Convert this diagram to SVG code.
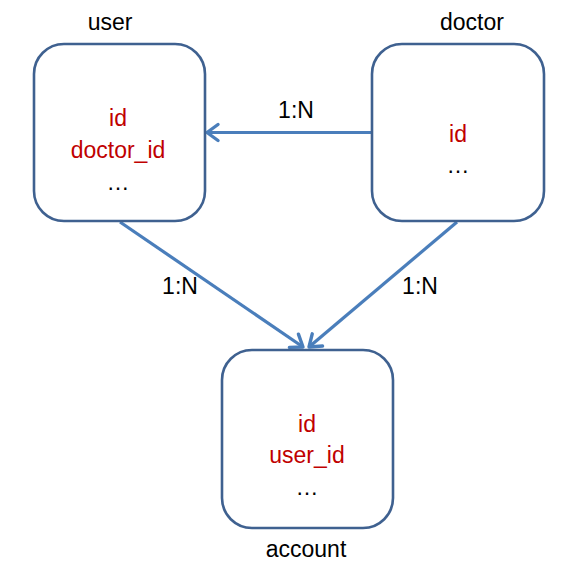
<svg xmlns="http://www.w3.org/2000/svg" width="579" height="581" viewBox="0 0 579 581">
<style>
.box{fill:#fff;stroke:#3F6190;stroke-width:2.6}
.conn{stroke:#4A7EBB;stroke-width:3.2;fill:none}
.t{font-family:"Liberation Sans",Arial,sans-serif;font-size:23px;text-anchor:middle;fill:#000}
.r{fill:#C00000}
</style>
<defs>
<marker id="ah" markerUnits="userSpaceOnUse" markerWidth="24" markerHeight="24" refX="14" refY="10" orient="auto" viewBox="0 0 24 20">
<path d="M3,2 L14,10 L3,18" fill="none" stroke="#4A7EBB" stroke-width="3.4" stroke-linecap="round" stroke-linejoin="round"/>
</marker>
</defs>
<rect width="579" height="581" fill="#fff"/>
<g id="connectors">
<line class="conn" x1="372" y1="132.5" x2="207" y2="132.5" marker-end="url(#ah)"/>
<line class="conn" x1="120" y1="222" x2="303" y2="347" marker-end="url(#ah)"/>
<line class="conn" x1="457" y1="222" x2="309" y2="347" marker-end="url(#ah)"/>
<text class="t" x="296" y="118">1:N</text>
<text class="t" x="180" y="294">1:N</text>
<text class="t" x="420" y="294">1:N</text>
</g>
<g id="user">
<rect class="box" x="34" y="44" width="171" height="177" rx="30"/>
<text class="t" x="110" y="30">user</text>
<text class="t r" x="118" y="126">id</text>
<text class="t r" x="118" y="158">doctor_id</text>
<text class="t" x="118" y="190">…</text>
</g>
<g id="doctor">
<rect class="box" x="372" y="44" width="172" height="177" rx="30"/>
<text class="t" x="472" y="30">doctor</text>
<text class="t r" x="458" y="142">id</text>
<text class="t" x="458" y="173">…</text>
</g>
<g id="account">
<rect class="box" x="222" y="350" width="171" height="178" rx="30"/>
<text class="t r" x="307" y="432">id</text>
<text class="t r" x="307" y="463">user_id</text>
<text class="t" x="307" y="495">…</text>
<text class="t" x="306" y="557">account</text>
</g>
</svg>
